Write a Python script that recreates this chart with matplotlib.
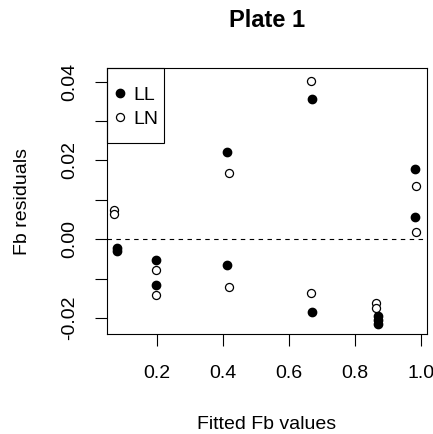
import numpy as np
import matplotlib
matplotlib.use("Agg")
import matplotlib.pyplot as plt
from matplotlib.patches import Rectangle

plt.rcParams['font.family'] = ['Liberation Sans', 'DejaVu Sans']

# fitted values and residuals, series LL (filled) and LN (open)
ll_x = [0.079, 0.079, 0.197, 0.197, 0.413, 0.413, 0.671, 0.671,
        0.869, 0.869, 0.869, 0.983, 0.983]
ll_y = [-0.0023, -0.0030, -0.0052, -0.0116, 0.0222, -0.0066, 0.0356, -0.0185,
        -0.0196, -0.0206, -0.0216, 0.0178, 0.0057]

ln_x = [0.071, 0.071, 0.197, 0.197, 0.417, 0.417, 0.668, 0.668,
        0.864, 0.864, 0.986, 0.986]
ln_y = [0.0074, 0.0064, -0.0079, -0.0141, 0.0167, -0.0122, 0.0403, -0.0137,
        -0.0161, -0.0176, 0.0135, 0.0017]

fig = plt.figure(figsize=(4.33, 4.34), dpi=100)
ax = fig.add_axes([0.2471, 0.2304, 0.739, 0.6129])

ax.plot(ll_x, ll_y, 'o', color='black', markersize=6.0, label='LL')
ax.plot(ln_x, ln_y, 'o', markerfacecolor='white', markeredgecolor='black',
        markeredgewidth=0.9, markersize=5.8, label='LN')
ax.axhline(0, color='black', linewidth=0.8, linestyle=(0, (4, 4)))

ax.set_xlim(0.0487, 1.018)
ax.set_ylim(-0.0241, 0.0435)
ax.set_xticks([0.2, 0.4, 0.6, 0.8, 1.0])
ax.set_xticklabels(['0.2', '0.4', '0.6', '0.8', '1.0'])
yt = [-0.02, -0.01, 0.0, 0.01, 0.02, 0.03, 0.04]
ax.set_yticks(yt)
ax.set_yticklabels(['-0.02', '', '0.00', '', '0.02', '', '0.04'],
                   rotation=90, va='center')
ax.tick_params(direction='out', length=8.5, width=0.8, labelsize=14)
ax.tick_params(axis='x', pad=14)
ax.tick_params(axis='y', pad=12)
for s in ax.spines.values():
    s.set_linewidth(0.8)

ax.set_title('Plate 1', fontsize=17, fontweight='bold', pad=29.5)
ax.set_xlabel('Fitted Fb values', fontsize=14, labelpad=24)
ax.set_ylabel('Fb residuals', fontsize=14, labelpad=22)

# legend box like R's, drawn separately so the padding can be uneven
leg = ax.legend(loc='upper left', bbox_to_anchor=(-0.0103, 0.9737),
                borderaxespad=0, frameon=False, fontsize=14,
                handlelength=0.5, handletextpad=0.45, borderpad=0.6,
                labelspacing=0.3)
ax.add_patch(Rectangle((0, 0.718), 0.178, 0.282, transform=ax.transAxes,
                       facecolor='none', edgecolor='black', linewidth=0.8,
                       clip_on=False, zorder=5))

fig.savefig('out.png', dpi=100)
